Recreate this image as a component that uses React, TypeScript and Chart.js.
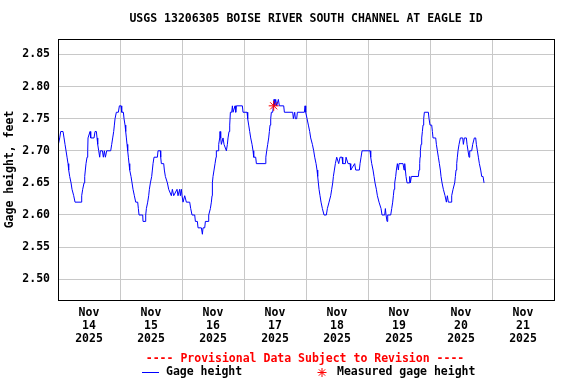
import React, { useEffect, useRef } from 'react';
import { Chart, registerables } from 'chart.js';

Chart.register(...registerables);

const chartTitle = 'USGS 13206305 BOISE RIVER SOUTH CHANNEL AT EAGLE ID';
const yAxisTitle = 'Gage height, feet';
const provisionalNote = '---- Provisional Data Subject to Revision ----';
const seriesNames = ['Gage height', 'Measured gage height'];
const monthLabel = 'Nov';
const yearLabel = '2025';
const dayLabels = ['14', '15', '16', '17', '18', '19', '20', '21'];
const yTickValues = [2.5, 2.55, 2.6, 2.65, 2.7, 2.75, 2.8, 2.85];
const yMin = 2.4676;
const yMax = 2.8741;
// x axis: hours since 2025-11-14 00:00
const xMin = 0;
const xMax = 192;
const xTickHours = [0, 12, 24, 36, 48, 60, 72, 84, 96, 108, 120, 132, 144, 156, 168, 180, 192];

// Gage height readings (hours since Nov 14 00:00, feet)
const gageHours = [
  0.14, 0.66, 1.05, 1.95, 2.34, 2.72, 3.11, 3.5, 3.88, 4.14,
  4.53, 5.05, 5.43, 6.08, 6.59, 8.92, 9.17, 9.56, 10.08, 10.34,
  10.59, 10.85, 11.24, 11.5, 11.62, 12.4, 12.66, 13.95, 14.33, 14.85,
  15.11, 15.37, 15.76, 16.14, 16.4, 17.18, 17.56, 17.95, 18.34, 18.85,
  20.4, 20.79, 21.17, 21.56, 21.82, 22.08, 22.59, 23.37, 23.76, 24.4,
  24.66, 25.31, 25.56, 25.95, 26.21, 26.47, 26.72, 26.98, 27.24, 27.5,
  27.76, 28.27, 28.66, 29.04, 29.56, 30.08, 30.85, 31.11, 31.37, 32.79,
  32.91, 33.69, 33.95, 34.21, 34.72, 35.11, 35.37, 35.76, 36.27, 36.53,
  36.79, 37.17, 38.47, 38.72, 39.63,
  39.76, 40.01, 40.92, 41.17, 41.56, 42.34, 42.85, 43.88, 44.27, 44.79,
  46.08, 46.46, 47.11, 47.37, 47.76, 48.01, 48.4, 49.05, 49.69, 50.98,
  51.37, 51.88, 52.92, 53.18, 53.95, 54.21, 55.5, 55.89, 56.14, 56.79,
  57.05, 58.08, 58.34, 58.98, 59.37, 59.63, 59.76, 60.01, 60.4, 60.79,
  61.17, 61.3, 61.95, 62.21, 62.59, 62.72, 62.98, 63.24, 63.88, 64.27,
  65.18, 65.56, 65.82, 66.21, 66.47, 66.73, 67.24, 67.5, 67.76, 68.53,
  68.79, 69.05, 71.37, 71.63, 73.18, 73.43, 73.82, 74.21, 74.6, 75.11,
  75.5, 75.76, 76.53, 76.79, 80.2,
  80.45, 80.79, 81.18, 81.56, 81.82, 82.08, 82.34, 82.59, 83.11, 83.37,
  83.63, 83.89, 84.27, 84.66, 85.31, 85.69, 87.37, 87.63, 90.85, 91.11,
  91.63, 91.89, 92.4, 92.66, 95.37, 95.63, 95.89, 96.4, 96.92, 97.43,
  97.82, 98.47, 98.98, 99.37, 99.89, 100.27, 100.53, 100.79, 101.05, 101.43,
  101.82, 102.34, 102.98, 103.88, 104.27, 104.92, 105.56, 105.95, 106.34, 106.6,
  106.98, 107.37, 107.89, 108.66, 109.18, 109.95, 110.21, 111.24, 111.5, 112.27,
  113.05, 113.31, 114.85, 115.24, 116.66, 116.92, 117.31, 117.69, 118.08, 120.79,
  121.05, 121.44, 121.95, 122.34, 122.72, 123.24, 123.63, 124.27, 125.05, 125.43,
  126.47, 126.72, 126.98, 127.37, 127.63, 128.79, 129.18, 129.56, 129.82, 130.08,
  130.34, 130.72, 130.98, 131.37, 131.76, 132.01, 133.56, 133.95, 134.21, 134.47,
  134.72, 135.11, 135.89, 136.14, 136.4, 136.79, 139.5, 139.75, 140.01, 140.14,
  140.27, 140.53, 140.79, 141.05, 141.3, 141.56, 141.82, 143.37, 143.63, 144.01,
  144.66, 144.92, 145.17, 146.21, 146.47, 146.85, 147.24, 147.63, 148.01, 148.27,
  148.66, 149.17, 149.82, 150.34, 150.72, 151.11, 152.14, 152.4, 152.92, 153.56,
  153.82, 154.08, 154.34, 154.59, 154.85, 155.24, 155.76, 156.66, 156.92, 157.3,
  158.08, 158.34, 158.72, 159.11, 159.37, 160.14, 160.53, 161.17, 161.69, 161.95,
  162.34, 162.72, 163.11, 163.63, 164.01, 164.53, 164.92,
];
const gageFeet = [
  2.71, 2.72, 2.73, 2.73, 2.72, 2.71, 2.70, 2.69, 2.68, 2.67,
  2.66, 2.65, 2.64, 2.63, 2.62, 2.62, 2.63, 2.64, 2.65, 2.66,
  2.67, 2.68, 2.69, 2.70, 2.72, 2.73, 2.72, 2.72, 2.73, 2.73,
  2.72, 2.71, 2.70, 2.69, 2.70, 2.70, 2.69, 2.70, 2.69, 2.70,
  2.70, 2.71, 2.72, 2.73, 2.74, 2.75, 2.76, 2.76, 2.77, 2.77,
  2.76, 2.76, 2.75, 2.74, 2.73, 2.72, 2.71, 2.70, 2.69, 2.68,
  2.67, 2.66, 2.65, 2.64, 2.63, 2.62, 2.62, 2.61, 2.60, 2.60,
  2.59, 2.59, 2.60, 2.61, 2.62, 2.63, 2.64, 2.65, 2.66, 2.67,
  2.68, 2.69, 2.69, 2.70, 2.70,
  2.69, 2.68, 2.68, 2.67, 2.66, 2.65, 2.64, 2.63, 2.64, 2.63,
  2.64, 2.63, 2.64, 2.63, 2.64, 2.63, 2.62, 2.63, 2.62, 2.62,
  2.61, 2.60, 2.60, 2.59, 2.59, 2.58, 2.58, 2.57, 2.58, 2.58,
  2.59, 2.59, 2.60, 2.61, 2.62, 2.63, 2.65, 2.66, 2.67, 2.68,
  2.69, 2.70, 2.70, 2.71, 2.72, 2.73, 2.72, 2.71, 2.72, 2.71,
  2.70, 2.71, 2.72, 2.73, 2.74, 2.76, 2.76, 2.77, 2.76, 2.77,
  2.76, 2.77, 2.77, 2.76, 2.76, 2.75, 2.74, 2.73, 2.72, 2.71,
  2.70, 2.69, 2.69, 2.68, 2.68,
  2.69, 2.70, 2.71, 2.72, 2.73, 2.74, 2.75, 2.76, 2.76, 2.77,
  2.78, 2.77, 2.78, 2.77, 2.78, 2.77, 2.77, 2.76, 2.76, 2.75,
  2.76, 2.75, 2.75, 2.76, 2.76, 2.77, 2.76, 2.75, 2.74, 2.73,
  2.72, 2.71, 2.70, 2.69, 2.68, 2.67, 2.66, 2.65, 2.64, 2.63,
  2.62, 2.61, 2.60, 2.60, 2.61, 2.62, 2.63, 2.64, 2.65, 2.66,
  2.67, 2.68, 2.69, 2.68, 2.69, 2.69, 2.68, 2.68, 2.69, 2.68,
  2.68, 2.67, 2.68, 2.67, 2.67, 2.68, 2.69, 2.70, 2.70, 2.70,
  2.69, 2.68, 2.67, 2.66, 2.65, 2.64, 2.63, 2.62, 2.61, 2.60,
  2.60, 2.61, 2.60, 2.59, 2.60, 2.60, 2.61, 2.62, 2.63, 2.64,
  2.65, 2.66, 2.67, 2.68, 2.67, 2.68, 2.68, 2.67, 2.68, 2.67,
  2.66, 2.65, 2.65, 2.66, 2.65, 2.66, 2.66, 2.67, 2.68, 2.69,
  2.70, 2.71, 2.72, 2.73, 2.74, 2.75, 2.76, 2.76, 2.75, 2.74,
  2.74, 2.73, 2.72, 2.72, 2.71, 2.70, 2.69, 2.68, 2.67, 2.66,
  2.65, 2.64, 2.63, 2.62, 2.63, 2.62, 2.62, 2.63, 2.64, 2.65,
  2.66, 2.67, 2.68, 2.69, 2.70, 2.71, 2.72, 2.72, 2.71, 2.72,
  2.72, 2.71, 2.70, 2.69, 2.70, 2.70, 2.71, 2.72, 2.72, 2.71,
  2.70, 2.69, 2.68, 2.67, 2.66, 2.66, 2.65,
];

// Field measurement
const measuredHours = [83.5];
const measuredFeet = [2.77];

const FONT_FAMILY = '"DejaVu Sans Mono", "Liberation Mono", monospace';
const FONT_SIZE = 11.5;
const GRID_COLOR = '#c8c8c8';
const LINE_COLOR = '#0000ff';
const MEASURED_COLOR = '#ff0000';

const frameAndFooter = {
  id: 'frameAndFooter',
  afterDraw(chart: any) {
    const { ctx, chartArea: a } = chart;
    const cx = (a.left + a.right) / 2;
    ctx.save();
    ctx.lineWidth = 1;
    ctx.strokeStyle = '#000000';
    ctx.strokeRect(
      Math.round(a.left) + 0.5,
      Math.round(a.top) + 0.5,
      Math.round(a.right - a.left),
      Math.round(a.bottom - a.top)
    );

    ctx.font = `bold ${FONT_SIZE}px ${FONT_FAMILY}`;
    ctx.textBaseline = 'middle';
    ctx.textAlign = 'center';
    ctx.fillStyle = '#000000';
    ctx.fillText(chartTitle, cx, a.top - 20);

    ctx.fillStyle = MEASURED_COLOR;
    ctx.fillText(provisionalNote, cx - 1, a.bottom + 59);

    const ly = a.bottom + 72.5;
    ctx.strokeStyle = LINE_COLOR;
    ctx.beginPath();
    ctx.moveTo(cx - 164, ly);
    ctx.lineTo(cx - 147, ly);
    ctx.stroke();

    ctx.textAlign = 'left';
    ctx.fillStyle = '#000000';
    ctx.fillText(seriesNames[0], cx - 140, ly);

    const sx = cx + 16;
    const r = 4.5;
    ctx.strokeStyle = MEASURED_COLOR;
    ctx.beginPath();
    for (let k = 0; k < 4; k++) {
      const ang = (k * Math.PI) / 4;
      ctx.moveTo(sx - r * Math.cos(ang), ly - r * Math.sin(ang));
      ctx.lineTo(sx + r * Math.cos(ang), ly + r * Math.sin(ang));
    }
    ctx.stroke();

    ctx.fillStyle = '#000000';
    ctx.fillText(seriesNames[1], cx + 31, ly);
    ctx.restore();
  },
};

export default function App() {
  const canvasRef = useRef<HTMLCanvasElement | null>(null);

  useEffect(() => {
    const canvas = canvasRef.current;
    if (!canvas) return;
    const font = { family: FONT_FAMILY, size: FONT_SIZE, weight: 'bold' as const, lineHeight: '13px' };

    const gageData = gageHours.map((h, i) => ({ x: h, y: gageFeet[i] }));
    const measuredData = measuredHours.map((h, i) => ({ x: h, y: measuredFeet[i] }));

    const chart = new Chart(canvas, {
      type: 'line',
      data: {
        datasets: [
          {
            label: seriesNames[1],
            data: measuredData,
            showLine: false,
            pointStyle: 'star',
            pointRadius: 5,
            pointBorderWidth: 1,
            borderColor: MEASURED_COLOR,
            backgroundColor: MEASURED_COLOR,
            order: 0,
          },
          {
            label: seriesNames[0],
            data: gageData,
            borderColor: LINE_COLOR,
            backgroundColor: LINE_COLOR,
            borderWidth: 1,
            pointRadius: 0,
            tension: 0,
            fill: false,
            order: 1,
          },
        ],
      },
      options: {
        responsive: false,
        animation: false,
        devicePixelRatio: 1,
        layout: { padding: { top: 39, right: 22, bottom: 38, left: 0 } },
        plugins: {
          legend: { display: false },
          title: { display: false },
          tooltip: { enabled: false },
        },
        scales: {
          x: {
            type: 'linear',
            min: xMin,
            max: xMax,
            afterBuildTicks: (scale: any) => {
              scale.ticks = xTickHours.map((v) => ({ value: v }));
            },
            afterFit: (scale: any) => {
              scale.height = 46;
            },
            grid: {
              color: (ctx: any) =>
                ctx.tick && ctx.tick.value % 24 === 0 ? GRID_COLOR : 'rgba(0,0,0,0)',
              lineWidth: 1,
              drawTicks: false,
            },
            border: { color: '#000000', width: 1 },
            ticks: {
              autoSkip: false,
              maxRotation: 0,
              minRotation: 0,
              padding: 7,
              color: '#000000',
              font,
              callback: (value: any) => {
                const v = Number(value);
                if (v % 24 !== 12) return '';
                const idx = Math.floor(v / 24);
                return [monthLabel, dayLabels[idx], yearLabel];
              },
            },
          },
          y: {
            type: 'linear',
            min: yMin,
            max: yMax,
            afterBuildTicks: (scale: any) => {
              scale.ticks = yTickValues.map((v) => ({ value: v }));
            },
            afterFit: (scale: any) => {
              scale.width = 58;
            },
            grid: { color: GRID_COLOR, lineWidth: 1, drawTicks: false },
            border: { color: '#000000', width: 1 },
            ticks: {
              padding: 8,
              color: '#000000',
              font,
              callback: (value: any) => Number(value).toFixed(2),
            },
            title: {
              display: true,
              text: yAxisTitle,
              color: '#000000',
              font,
              padding: { top: 4, bottom: 0 },
            },
          },
        },
      },
      plugins: [frameAndFooter],
    });

    return () => {
      chart.destroy();
    };
  }, []);

  return (
    <div style={{ position: 'absolute', left: 0, top: 0, width: 576, height: 384, background: '#ffffff' }}>
      <canvas ref={canvasRef} width={576} height={384} style={{ display: 'block', width: 576, height: 384 }} />
    </div>
  );
}
